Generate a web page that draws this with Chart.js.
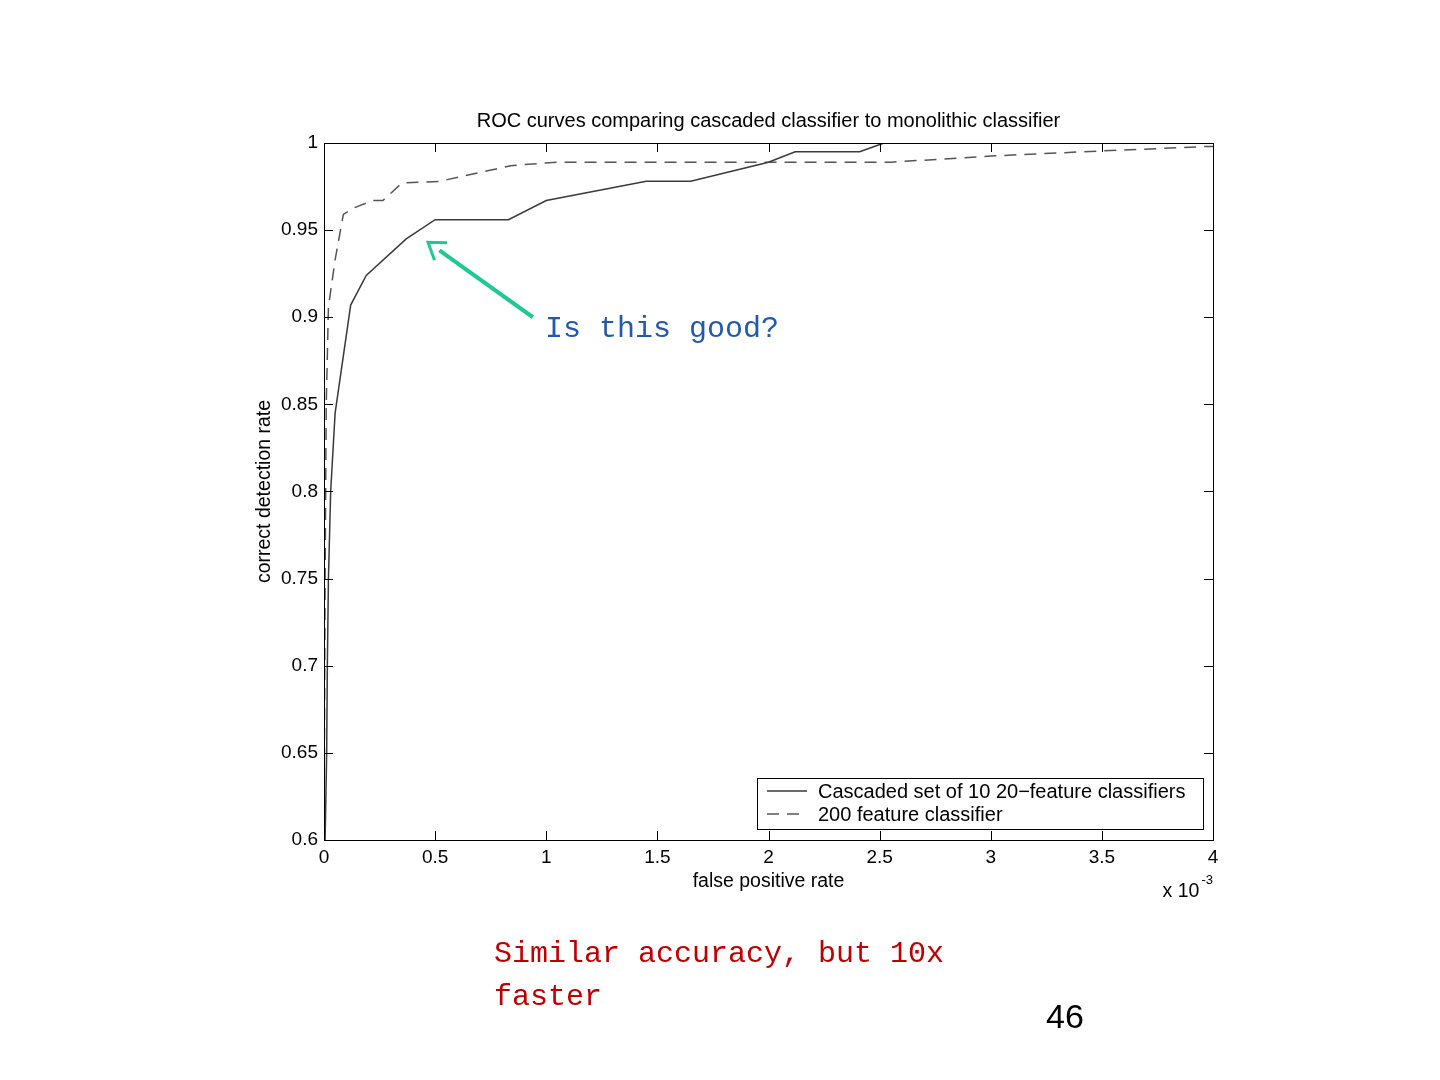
<!DOCTYPE html>
<html>
<head>
<meta charset="utf-8">
<script src="https://cdn.jsdelivr.net/npm/chart.js@4.4.1/dist/chart.umd.min.js"></script>
<style>
body { margin: 0; background: #fff; }
#wrap { position: relative; width: 1440px; height: 1080px; }
#chart { position: absolute; left: 0; top: 0; }
.note { position: absolute; left: 494px; top: 933px; font-family: "Liberation Mono", monospace; font-size: 30px; line-height: 43px; color: #c00000; }
#page { position: absolute; left: 1046px; top: 999px; font-family: "Liberation Sans", Arial, sans-serif; font-size: 34px; line-height: 34px; color: #000; }
</style>
</head>
<body>
<div id="wrap">
  <canvas id="chart" width="1440" height="1080"></canvas>
  <div class="note">Similar accuracy, but 10x<br>faster</div>
  <div id="page">46</div>
</div>
<script>
// false positive rate in units of 1e-3
const cascadeFpr = [0, 0.005, 0.012, 0.015, 0.02, 0.03, 0.05, 0.12, 0.19, 0.37, 0.5, 0.83, 1.0, 1.45, 1.65, 2.0, 2.12, 2.41, 2.52, 4.0];
const cascadeTpr = [0.6, 0.6, 0.65, 0.7, 0.75, 0.8, 0.845, 0.907, 0.924, 0.945, 0.956, 0.956, 0.967, 0.978, 0.978, 0.989, 0.995, 0.995, 1.0, 1.0];

const monoFpr = [0, 0.005, 0.01, 0.02, 0.05, 0.087, 0.13, 0.22, 0.265, 0.35, 0.52, 0.84, 1.05, 2.55, 2.81, 3.0, 3.42, 3.97, 4.0];
const monoTpr = [0.6, 0.75, 0.85, 0.906, 0.933, 0.959, 0.9625, 0.967, 0.967, 0.977, 0.978, 0.987, 0.989, 0.989, 0.991, 0.9925, 0.995, 0.998, 0.998];

const xTicks = [0, 0.5, 1, 1.5, 2, 2.5, 3, 3.5, 4];
const yTicks = [0.6, 0.65, 0.7, 0.75, 0.8, 0.85, 0.9, 0.95, 1];

const seriesNames = ['Cascaded set of 10 20\u2212feature classifiers', '200 feature classifier'];
const chartTitle = 'ROC curves comparing cascaded classifier to monolithic classifier';

// annotation anchored in data coords
const arrowTip = { x: 0.468, y: 0.943 };
const arrowTail = { x: 0.94, y: 0.900 };
const noteAt = { x: 0.994, y: 0.8887 };
const noteText = 'Is this good?';

const sans = '"Liberation Sans", Arial, sans-serif';

function pts(xs, ys) {
    return xs.map((x, i) => ({ x: x, y: ys[i] }));
}

function fmt(v) {
    return String(Math.round(v * 100) / 100);
}

const boxPlugin = {
    id: 'matlabBox',
    afterDraw(chart) {
        const ctx = chart.ctx;
        const ca = chart.chartArea;
        const xs = chart.scales.x, ys = chart.scales.y;
        ctx.save();
        // title, centred on the plot box like matlab does
        ctx.fillStyle = '#000';
        ctx.font = '20px ' + sans;
        ctx.textAlign = 'center';
        ctx.textBaseline = 'middle';
        ctx.fillText(chartTitle, (ca.left + ca.right) / 2, ca.top - 22);

        // frame
        ctx.strokeStyle = '#000';
        ctx.lineWidth = 1;
        ctx.strokeRect(ca.left + 0.5, ca.top + 0.5, ca.right - ca.left, ca.bottom - ca.top);
        // inward ticks
        ctx.beginPath();
        xTicks.forEach(v => {
            const px = Math.round(xs.getPixelForValue(v)) + 0.5;
            ctx.moveTo(px, ca.bottom); ctx.lineTo(px, ca.bottom - 9);
            ctx.moveTo(px, ca.top); ctx.lineTo(px, ca.top + 9);
        });
        yTicks.forEach(v => {
            const py = Math.round(ys.getPixelForValue(v)) + 0.5;
            ctx.moveTo(ca.left, py); ctx.lineTo(ca.left + 9, py);
            ctx.moveTo(ca.right, py); ctx.lineTo(ca.right - 9, py);
        });
        ctx.stroke();

        // legend
        const lw = 446, lh = 51;
        const lx = ca.right - 10 - lw, ly = ca.bottom - 11 - lh;
        ctx.fillStyle = '#fff';
        ctx.fillRect(lx, ly, lw, lh);
        ctx.strokeStyle = '#000';
        ctx.strokeRect(lx + 0.5, ly + 0.5, lw, lh);
        ctx.font = '20px ' + sans;
        ctx.textBaseline = 'middle';
        ctx.textAlign = 'left';
        chart.data.datasets.forEach((ds, i) => {
            const yy = ly + 13 + i * 23;
            ctx.strokeStyle = ds.borderColor;
            ctx.lineWidth = 1.3;
            ctx.setLineDash(ds.borderDash || []);
            ctx.beginPath();
            ctx.moveTo(lx + 10, yy); ctx.lineTo(lx + 50, yy);
            ctx.stroke();
            ctx.setLineDash([]);
            ctx.fillStyle = '#000';
            ctx.fillText(ds.label, lx + 61, yy + 1);
        });

        // x 10^-3
        ctx.fillStyle = '#000';
        ctx.textBaseline = 'alphabetic';
        ctx.textAlign = 'right';
        ctx.font = '13px ' + sans;
        const supW = ctx.measureText('-3').width;
        ctx.fillText('-3', ca.right, ca.bottom + 44);
        ctx.font = '19.5px ' + sans;
        ctx.fillText('x 10', ca.right - supW - 2, ca.bottom + 57);

        // arrow
        const tx = xs.getPixelForValue(arrowTip.x), ty = ys.getPixelForValue(arrowTip.y);
        const sx = xs.getPixelForValue(arrowTail.x), sy = ys.getPixelForValue(arrowTail.y);
        const ang = Math.atan2(ty - sy, tx - sx);
        ctx.strokeStyle = '#1fc994';
        ctx.lineWidth = 4;
        ctx.beginPath();
        ctx.moveTo(sx, sy);
        ctx.lineTo(tx - 14 * Math.cos(ang), ty - 14 * Math.sin(ang));
        ctx.stroke();
        ctx.lineWidth = 3;
        ctx.beginPath();
        ctx.moveTo(tx - 19 * Math.cos(ang - 0.6), ty - 19 * Math.sin(ang - 0.6));
        ctx.lineTo(tx, ty);
        ctx.lineTo(tx - 19 * Math.cos(ang + 0.6), ty - 19 * Math.sin(ang + 0.6));
        ctx.stroke();

        ctx.font = '30px "Liberation Mono", monospace';
        ctx.fillStyle = '#2159b0';
        ctx.textAlign = 'left';
        ctx.fillText(noteText, xs.getPixelForValue(noteAt.x), ys.getPixelForValue(noteAt.y));
        ctx.restore();
    }
};

new Chart(document.getElementById('chart'), {
    type: 'line',
    data: {
        datasets: [{
            label: seriesNames[0],
            data: pts(cascadeFpr, cascadeTpr),
            borderColor: '#3a3a3a',
            borderWidth: 1.5,
            pointRadius: 0,
            tension: 0
        }, {
            label: seriesNames[1],
            data: pts(monoFpr, monoTpr),
            borderColor: '#555555',
            borderWidth: 1.5,
            borderDash: [12, 8],
            pointRadius: 0,
            tension: 0
        }]
    },
    options: {
        responsive: false,
        animation: false,
        events: [],
        layout: { padding: { left: 240, right: 227, top: 143, bottom: 180 } },
        plugins: {
            legend: { display: false },
            tooltip: { enabled: false },
            title: { display: false }
        },
        scales: {
            x: {
                type: 'linear',
                min: 0, max: 4,
                afterFit: s => { s.height = 60; },
                afterBuildTicks: s => { s.ticks = xTicks.map(v => ({ value: v })); },
                grid: { display: false, drawTicks: false },
                border: { display: false },
                ticks: { color: '#000', padding: 6, maxRotation: 0, callback: fmt, font: { family: sans, size: 19 } },
                title: { display: true, text: 'false positive rate', color: '#000', font: { family: sans, size: 19.5 }, padding: { top: 0, bottom: 7 } }
            },
            y: {
                type: 'linear',
                min: 0.6, max: 1,
                afterFit: s => { s.width = 84; },
                afterBuildTicks: s => { s.ticks = yTicks.map(v => ({ value: v })); },
                grid: { display: false, drawTicks: false },
                border: { display: false },
                ticks: { color: '#000', padding: 6, callback: fmt, font: { family: sans, size: 19 } },
                title: { display: true, text: 'correct detection rate', color: '#000', font: { family: sans, size: 19.5 }, padding: { top: 13, bottom: 0 } }
            }
        }
    },
    plugins: [boxPlugin]
});
</script>
</body>
</html>
